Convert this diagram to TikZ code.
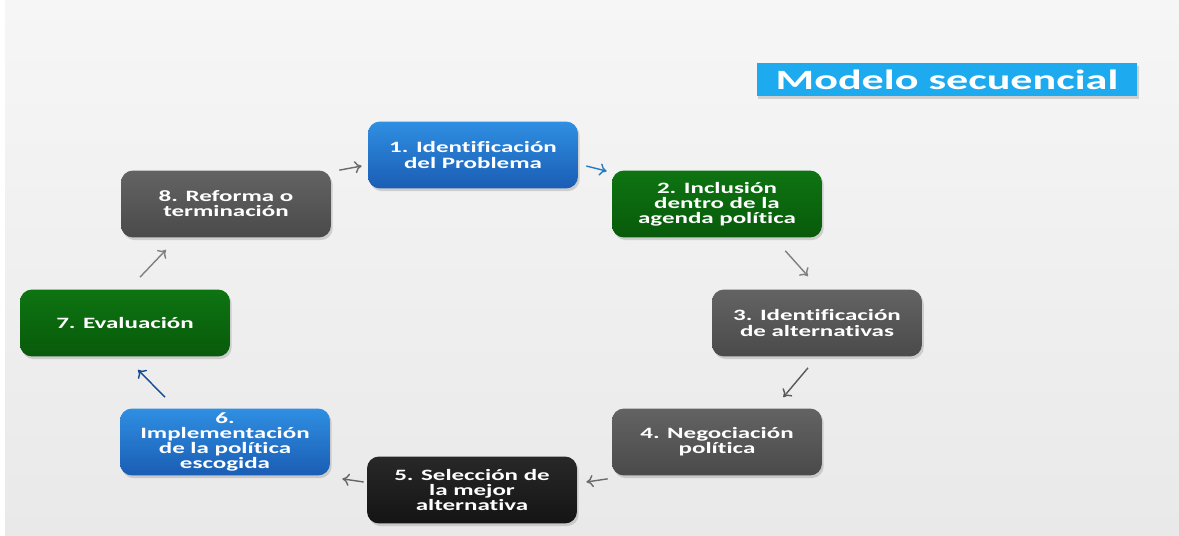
\documentclass[tikz,border=0pt]{standalone}
\usepackage{fontspec}
\setmainfont[FakeStretch=1.58, Ligatures=NoCommon]{Carlito}
\usetikzlibrary{positioning}
\usetikzlibrary{shadows}
\usetikzlibrary{arrows.meta}
\definecolor{fondoA}{HTML}{F6F6F6}
\definecolor{fondoB}{HTML}{E9E9E9}
\definecolor{azulA}{HTML}{2F8FE2}
\definecolor{azulB}{HTML}{1A5DB4}
\definecolor{verdeA}{HTML}{0E7412}
\definecolor{verdeB}{HTML}{085A0A}
\definecolor{grisA}{HTML}{636363}
\definecolor{grisB}{HTML}{4A4A4A}
\definecolor{negroA}{HTML}{282828}
\definecolor{negroB}{HTML}{141414}
\definecolor{celeste}{HTML}{1DAAEE}
\newcommand\letrapaso{\bfseries\fontsize{9}{8.6}\selectfont\lineskiplimit=-5pt\relax}

\begin{document}
\begin{tikzpicture}[x=0.02cm, y=-0.02cm,
    paso/.style={rounded corners=0.24cm, minimum width=4.2cm, minimum height=1.34cm,
        inner ysep=0pt, align=center, text=white, font=\letrapaso,
        drop shadow={opacity=0.3, shadow xshift=1pt, shadow yshift=-1.5pt}},
    azul/.style={paso, top color=azulA, bottom color=azulB},
    verde/.style={paso, top color=verdeA, bottom color=verdeB},
    gris/.style={paso, top color=grisA, bottom color=grisB},
    negro/.style={paso, top color=negroA, bottom color=negroB},
    flecha/.style={-{To[length=4pt,width=7pt]}, line width=0.8pt}]
    % Background and frame
    \useasboundingbox (0,0) rectangle (1179,536);
    \fill[top color=fondoA, bottom color=fondoB] (0,0) rectangle (1179,536);
    \fill[white] (0,0) rectangle (5,536);
    % Title
    \node[fill=celeste, minimum width=7.62cm, minimum height=0.66cm, text=white,
        font=\bfseries\fontsize{15.9}{18}\selectfont,
        drop shadow={opacity=0.3, shadow xshift=1pt, shadow yshift=-1.5pt}]
        (titulo) at (947,80) {Modelo secuencial};
    % Steps of the cycle
    \node[azul]  (paso1) at (473,155) {1. Identificación\\del Problema};
    \node[verde] (paso2) at (717,204) {2. Inclusión\\dentro de la\\agenda política};
    \node[gris]  (paso3) at (817,323) {3. Identificación\\de alternativas};
    \node[gris]  (paso4) at (717,442) {4. Negociación\\política};
    \node[negro] (paso5) at (472,490) {5. Selección de\\la mejor\\alternativa};
    \node[azul]  (paso6) at (225,442) {6.\\Implementación\\de la política\\escogida};
    \node[verde] (paso7) at (125,323) {7. Evaluación};
    \node[gris]  (paso8) at (226,204) {8. Reforma o\\terminación};
    % Arrows between steps
    \draw[flecha, gray!85!black] ([shift={(8,0)}]paso8.north east) -- ([shift={(-6,11)}]paso1.west);
    \draw[flecha, azulA!85!black] ([shift={(8,11)}]paso1.east) -- ([shift={(-5,1)}]paso2.north west);
    \draw[flecha, gray] ([shift={(-37,13)}]paso2.south east) -- ([shift={(-9,-13)}]paso3.north);
    \draw[flecha, black!65] ([shift={(-9,11)}]paso3.south) -- ([shift={(-39,-11)}]paso4.north east);
    \draw[flecha, gray!85!black] ([shift={(-4,3)}]paso4.south west) -- ([shift={(9,-8)}]paso5.east);
    \draw[flecha, black!60] ([shift={(-3,-8)}]paso5.west) -- ([shift={(12,3)}]paso6.south east);
    \draw[flecha, azulB!80!black] ([shift={(-60,-11)}]paso6.north) -- ([shift={(13,13)}]paso7.south);
    \draw[flecha, gray] ([shift={(15,-12)}]paso7.north) -- ([shift={(-60,12)}]paso8.south);
\end{tikzpicture}
\end{document}
